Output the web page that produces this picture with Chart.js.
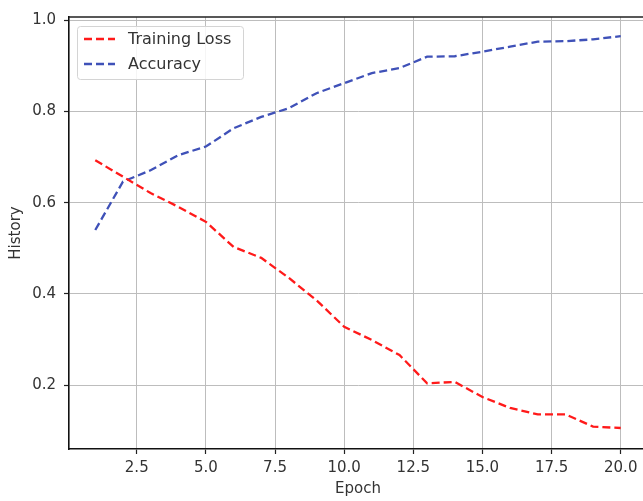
<!DOCTYPE html>
<html>
<head>
<meta charset="utf-8">
<script src="https://cdn.jsdelivr.net/npm/chart.js@4.4.1/dist/chart.umd.min.js"></script>
<style>
  html, body { margin: 0; padding: 0; overflow: hidden; background: #fff; }
  #wrap { width: 680px; height: 501px; }
</style>
</head>
<body>
<div id="wrap"><canvas id="c" width="680" height="501"></canvas></div>
<script>
const epochs = [1, 2, 3, 4, 5, 6, 7, 8, 9, 10, 11, 12, 13, 14, 15, 16, 17, 18, 19, 20];
const trainingLoss = [0.693, 0.657, 0.621, 0.591, 0.558, 0.503, 0.479, 0.435, 0.386, 0.328,
                      0.299, 0.266, 0.204, 0.207, 0.174, 0.150, 0.136, 0.136, 0.109, 0.106];
const accuracy = [0.540, 0.646, 0.671, 0.704, 0.723, 0.763, 0.788, 0.807, 0.840, 0.862,
                  0.884, 0.895, 0.920, 0.921, 0.931, 0.942, 0.953, 0.954, 0.958, 0.965];
const xTicks = [2.5, 5.0, 7.5, 10.0, 12.5, 15.0, 17.5, 20.0];
const yTicks = [0.2, 0.4, 0.6, 0.8, 1.0];
const seriesLabels = ['Training Loss', 'Accuracy'];

const FONT = 'DejaVu Sans';
const TXT = '#333333';

const frame = {
  id: 'frame',
  afterDatasetsDraw(chart) {
    const {ctx, chartArea: a} = chart;
    ctx.save();
    ctx.strokeStyle = '#222';
    ctx.lineWidth = 1.3;
    ctx.beginPath();
    ctx.moveTo(a.left, a.top);
    ctx.lineTo(a.right, a.top);
    ctx.lineTo(a.right, a.bottom);
    ctx.stroke();
    ctx.restore();
  }
};

const boxLegend = {
  id: 'boxLegend',
  afterDraw(chart) {
    const {ctx, chartArea: a} = chart;
    const ds = chart.data.datasets;
    const x0 = a.left + 8, y0 = a.top + 9;
    const w = 166, rowH = 25, h = 53;
    ctx.save();
    ctx.fillStyle = 'rgba(255,255,255,0.85)';
    ctx.strokeStyle = '#d4d4d4';
    ctx.lineWidth = 1;
    ctx.beginPath();
    ctx.roundRect(x0 + 0.5, y0 + 0.5, w, h, 3);
    ctx.fill();
    ctx.stroke();
    ctx.font = '16px "' + FONT + '"';
    ctx.textBaseline = 'middle';
    ds.forEach((d, i) => {
      const cy = y0 + 13 + i * rowH;
      ctx.strokeStyle = d.borderColor;
      ctx.lineWidth = d.borderWidth;
      ctx.setLineDash(d.borderDash);
      ctx.beginPath();
      ctx.moveTo(x0 + 7, cy);
      ctx.lineTo(x0 + 38, cy);
      ctx.stroke();
      ctx.setLineDash([]);
      ctx.fillStyle = TXT;
      ctx.fillText(d.label, x0 + 51, cy + 1);
    });
    ctx.restore();
  }
};

new Chart(document.getElementById('c'), {
  type: 'line',
  data: {
    datasets: [
      {
        label: seriesLabels[0],
        data: epochs.map((e, i) => ({x: e, y: trainingLoss[i]})),
        borderColor: '#ff1a1a',
        borderWidth: 2.3,
        borderDash: [8, 4],
        pointRadius: 0,
        tension: 0,
        fill: false
      },
      {
        label: seriesLabels[1],
        data: epochs.map((e, i) => ({x: e, y: accuracy[i]})),
        borderColor: '#3f51b8',
        borderWidth: 2.3,
        borderDash: [8, 4],
        pointRadius: 0,
        tension: 0,
        fill: false
      }
    ]
  },
  options: {
    responsive: false,
    animation: false,
    events: [],
    layout: { padding: { left: 0, top: 16, right: 33, bottom: 0 } },
    plugins: {
      legend: { display: false },
      tooltip: { enabled: false }
    },
    scales: {
      x: {
        type: 'linear',
        min: 0.05,
        max: 20.95,
        afterBuildTicks(s) { s.ticks = xTicks.map(v => ({value: v})); },
        afterFit(s) { s.height = 52; },
        grid: {
          color: '#bdbdbd',
          lineWidth: 1,
          drawTicks: true,
          tickLength: 5,
          tickColor: '#222',
          tickWidth: 1.2
        },
        border: { display: true, color: '#111', width: 1.6 },
        ticks: {
          autoSkip: false,
          maxRotation: 0,
          padding: 5,
          color: TXT,
          font: { family: FONT, size: 15 },
          callback: v => Number(v).toFixed(1)
        },
        title: {
          display: true,
          text: 'Epoch',
          color: TXT,
          font: { family: FONT, size: 15 },
          padding: { top: 0, bottom: 3 }
        }
      },
      y: {
        type: 'linear',
        min: 0.06,
        max: 1.007,
        afterBuildTicks(s) { s.ticks = yTicks.map(v => ({value: v})); },
        afterFit(s) { s.width = 69; },
        grid: {
          color: '#bdbdbd',
          lineWidth: 1,
          drawTicks: true,
          tickLength: 5,
          tickColor: '#222',
          tickWidth: 1.2
        },
        border: { display: true, color: '#111', width: 1.6 },
        ticks: {
          autoSkip: false,
          padding: 8,
          color: TXT,
          font: { family: FONT, size: 15 },
          callback: v => Number(v).toFixed(1)
        },
        title: {
          display: true,
          text: 'History',
          color: TXT,
          font: { family: FONT, size: 15 },
          padding: { top: 7, bottom: 0 }
        }
      }
    }
  },
  plugins: [frame, boxLegend]
});
</script>
</body>
</html>
